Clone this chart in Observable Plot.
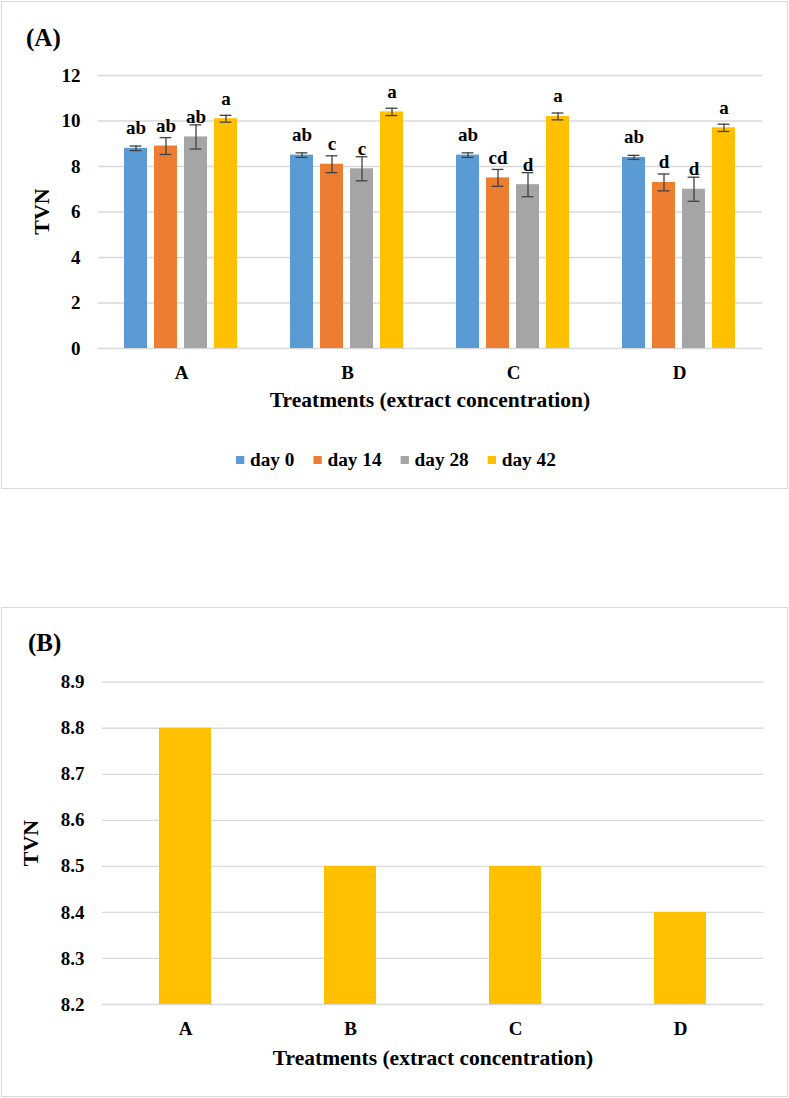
<!DOCTYPE html>
<html>
<head>
<meta charset="utf-8">
<script src="https://cdn.jsdelivr.net/npm/d3@7"></script>
<script src="https://cdn.jsdelivr.net/npm/@observablehq/plot@0.6"></script>
<style>
  body { margin: 0; background: #fff; }
  #page { position: relative; width: 789px; height: 1098px; overflow: hidden; background: #fff; }
  .frame { position: absolute; box-sizing: border-box; border: 1.3px solid #d9d9d9; }
  .abs { position: absolute; left: 0; }
  svg { overflow: visible; }
</style>
</head>
<body>
<div id="page"></div>
<script>
// ---------- data ----------
const treatments = ["A", "B", "C", "D"];
const days = ["day 0", "day 14", "day 28", "day 42"];
const colors = ["#5B9BD5", "#ED7D31", "#A5A5A5", "#FFC000"];

// Panel A: TVN by treatment, per storage day
const tvnDay0  = [8.8, 8.5, 8.5, 8.4];
const tvnDay14 = [8.9, 8.1, 7.5, 7.3];
const tvnDay28 = [9.3, 7.9, 7.2, 7.0];
const tvnDay42 = [10.1, 10.4, 10.2, 9.7];

const errDay0  = [0.10, 0.10, 0.10, 0.09];
const errDay14 = [0.37, 0.37, 0.37, 0.37];
const errDay28 = [0.53, 0.53, 0.53, 0.53];
const errDay42 = [0.15, 0.16, 0.15, 0.16];

const lettersDay0  = ["ab", "ab", "ab", "ab"];
const lettersDay14 = ["ab", "c", "cd", "d"];
const lettersDay28 = ["ab", "c", "d", "d"];
const lettersDay42 = ["a", "a", "a", "a"];

const yTicksA = [0, 2, 4, 6, 8, 10, 12];

// Panel B
const tvnB = [8.8, 8.5, 8.5, 8.4];
const yTicksB = [8.2, 8.3, 8.4, 8.5, 8.6, 8.7, 8.8, 8.9];
const colorB = "#FFC000";

const titleA = "(A)";
const titleB = "(B)";
const yLabel = "TVN";
const xLabel = "Treatments (extract concentration)";

// ---------- build tables ----------
const seriesA = [tvnDay0, tvnDay14, tvnDay28, tvnDay42];
const errA = [errDay0, errDay14, errDay28, errDay42];
const lettersA = [lettersDay0, lettersDay14, lettersDay28, lettersDay42];
const dataA = [];
treatments.forEach((t, i) => days.forEach((d, j) => dataA.push({
  treatment: t, day: d, value: seriesA[j][i], err: errA[j][i], letter: lettersA[j][i]
})));
const dataB = treatments.map((t, i) => ({treatment: t, value: tvnB[i]}));

const FONT = '"Liberation Serif", "Times New Roman", serif';
const baseStyle = {fontFamily: FONT, fontWeight: "bold", fontSize: "19px", color: "#000", background: "transparent", overflow: "visible"};
const page = document.getElementById("page");

// frames
function frame(top, height) {
  const f = document.createElement("div");
  f.className = "frame";
  Object.assign(f.style, {left: "1px", top: top + "px", width: "787px", height: height + "px"});
  page.appendChild(f);
}
frame(1, 488);
frame(607, 490);

// ---------- Panel A ----------
const errStroke = "#404040";
const plotA = Plot.plot({
  width: 789, height: 390,
  marginLeft: 97, marginRight: 26, marginTop: 75, marginBottom: 42,
  style: baseStyle,
  fx: {domain: treatments, padding: 0, label: null},
  x: {domain: days, paddingInner: 0.224, paddingOuter: 0.86, axis: null},
  y: {domain: [0, 12], label: null},
  color: {domain: days, range: colors},
  marks: [
    Plot.gridY(yTicksA, {stroke: "#d9d9d9", strokeOpacity: 1, strokeWidth: 1.3}),
    Plot.axisY(yTicksA, {tickSize: 0, tickPadding: 18, label: null}),
    Plot.axisFx({anchor: "bottom", tickSize: 0, tickPadding: 17, label: null}),
    Plot.barY(dataA, {fx: "treatment", x: "day", y: "value", fill: "day"}),
    Plot.ruleX(dataA, {fx: "treatment", x: "day", y1: d => d.value - d.err, y2: d => d.value + d.err, stroke: errStroke, strokeWidth: 1.3}),
    Plot.tickY(dataA, {fx: "treatment", x: "day", y: d => d.value - d.err, stroke: errStroke, strokeWidth: 1.3, insetLeft: 5.6, insetRight: 5.6}),
    Plot.tickY(dataA, {fx: "treatment", x: "day", y: d => d.value + d.err, stroke: errStroke, strokeWidth: 1.3, insetLeft: 5.6, insetRight: 5.6}),
    Plot.text(dataA, {fx: "treatment", x: "day", y: "value", text: "letter", dy: -14, lineAnchor: "bottom", fontSize: 19, fontWeight: "bold", fill: "#000"})
  ]
});
plotA.classList.add("abs");
plotA.style.top = "0px";
page.appendChild(plotA);

// ---------- Panel B ----------
const plotB = Plot.plot({
  width: 789, height: 450,
  marginLeft: 102, marginRight: 25.5, marginTop: 81.7, marginBottom: 46,
  style: baseStyle,
  x: {domain: treatments, paddingInner: 0.686, paddingOuter: 0.343, label: null},
  y: {domain: [yTicksB[0], yTicksB[yTicksB.length - 1]], label: null},
  marks: [
    Plot.gridY(yTicksB, {stroke: "#d9d9d9", strokeOpacity: 1, strokeWidth: 1.3}),
    Plot.barY(dataB, {x: "treatment", y1: yTicksB[0], y2: "value", fill: colorB}),
    Plot.axisY(yTicksB, {tickSize: 0, tickPadding: 18, label: null, tickFormat: d => d.toFixed(1)}),
    Plot.axisX({tickSize: 0, tickPadding: 16.5, label: null})
  ]
});
plotB.classList.add("abs");
plotB.style.top = "600px";
page.appendChild(plotB);

// ---------- overlay texts & legend ----------
const ov = d3.select(page).append("svg")
  .attr("width", 789).attr("height", 1098)
  .style("position", "absolute").style("left", "0px").style("top", "0px")
  .style("pointer-events", "none")
  .style("font-family", FONT).style("font-weight", "bold").attr("fill", "#000");

function txt(s, x, y, size, anchor = "start", rotate = 0) {
  const t = ov.append("text").text(s)
    .attr("font-size", size).attr("text-anchor", anchor);
  if (rotate) t.attr("transform", `translate(${x},${y}) rotate(${rotate})`);
  else t.attr("x", x).attr("y", y);
  return t;
}

txt(titleA, 26, 46, 25);
txt(titleB, 28, 651, 25);
txt(yLabel, 48.5, 211.5, 22, "middle", -90);
txt(yLabel, 37.5, 843, 22, "middle", -90);
txt(xLabel, 430, 407, 21.5, "middle");
txt(xLabel, 433, 1065, 21.5, "middle");

// legend
let lx = 236;
const legendBaseline = 465.5;
days.forEach((d, i) => {
  ov.append("rect").attr("x", lx).attr("y", 456).attr("width", 8.3).attr("height", 8).attr("fill", colors[i]);
  const t = txt(d, lx + 14, legendBaseline, 19.3);
  lx = lx + 14 + t.node().getComputedTextLength() + 19;
});
</script>
</body>
</html>
